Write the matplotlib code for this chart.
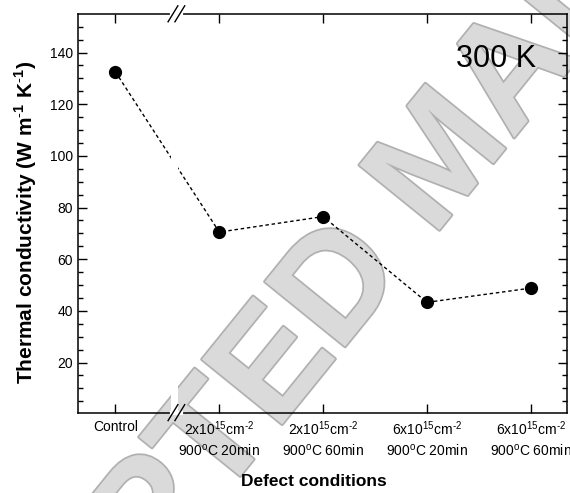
import numpy as np
import matplotlib
matplotlib.use('Agg')
import matplotlib.pyplot as plt
import matplotlib.patheffects as pe

plt.rcParams['font.family'] = ['Liberation Sans', 'DejaVu Sans']
plt.rcParams['mathtext.fontset'] = 'custom'
plt.rcParams['mathtext.rm'] = 'Liberation Sans'
plt.rcParams['mathtext.bf'] = 'Liberation Sans:bold'

# data
conditions = ['Control',
              '2x10$^{15}$cm$^{\\text{-}2}$\n900$^{\\mathrm{o}}$C 20min',
              '2x10$^{15}$cm$^{\\text{-}2}$\n900$^{\\mathrm{o}}$C 60min',
              '6x10$^{15}$cm$^{\\text{-}2}$\n900$^{\\mathrm{o}}$C 20min',
              '6x10$^{15}$cm$^{\\text{-}2}$\n900$^{\\mathrm{o}}$C 60min']
kappa = [132.5, 70.5, 76.5, 43.3, 48.8]
yticks = [20, 40, 60, 80, 100, 120, 140]

fig = plt.figure(figsize=(5.7, 4.93), dpi=100)
ax = fig.add_axes([0.137, 0.163, 0.858, 0.809])
ax.set_facecolor('none')

x = np.arange(len(kappa))
ax.plot(x, kappa, color='black', lw=1.0, ls=(0, (2.5, 2)), zorder=2)
ax.axvspan(0.53, 0.6, color='white', zorder=2.2, lw=0)
ax.plot(x, kappa, 'o', color='black', ms=8.5, zorder=3)

ax.set_xlim(-0.36, 4.35)
ax.set_ylim(0.6, 155)
ax.set_xticks(x)
ax.set_xticklabels(conditions, fontsize=10, linespacing=1.35)
ax.set_yticks(yticks)
ax.set_yticks(np.arange(5, 155, 5), minor=True)
ax.tick_params(axis='y', labelsize=10)
ax.tick_params(axis='x', pad=5)
ax.tick_params(which='major', direction='in', length=6.5, width=1, top=True, right=True)
ax.tick_params(which='minor', direction='in', length=3.5, width=1, right=True)
ax.tick_params(axis='x', which='minor', bottom=False, top=False)
for s in ax.spines.values():
    s.set_linewidth(1.1)

ax.set_xlabel('Defect conditions', fontsize=12.5, fontweight='bold')
ax.xaxis.set_label_coords(0.483, -0.155)
ax.set_ylabel('Thermal conductivity (W m$^{\\text{-}\\mathbf{1}}$ K$^{\\text{-}\\mathbf{1}}$)',
              fontsize=15, fontweight='bold')
ax.yaxis.set_label_coords(-0.08, 0.476)

ax.text(0.855, 0.887, '300 K', transform=ax.transAxes, fontsize=22,
        ha='center', va='center', zorder=4)

# axis break marks
brk = 0.194
for yy in (0, 1):
    ax.plot([brk - 0.003, brk + 0.017], [yy, yy], color='white', lw=3,
            transform=ax.transAxes, clip_on=False, zorder=5)
    for off in (0.0, 0.014):
        ax.plot([brk - 0.01 + off, brk + 0.01 + off], [yy - 0.02, yy + 0.02],
                color='black', lw=1, transform=ax.transAxes, clip_on=False, zorder=6)

# watermark
wm = ax.text(0.78, 0.672, 'ACCEPTED MANUSCRIPT', transform=fig.transFigure,
             fontsize=108, fontweight='bold', rotation=51, rotation_mode='anchor',
             ha='center', va='center', color='#dadada', zorder=0.5, clip_on=False)
wm.set_path_effects([pe.Stroke(linewidth=2.5, foreground='#b0b0b0'), pe.Normal()])

fig.savefig('out.png', dpi=100)
